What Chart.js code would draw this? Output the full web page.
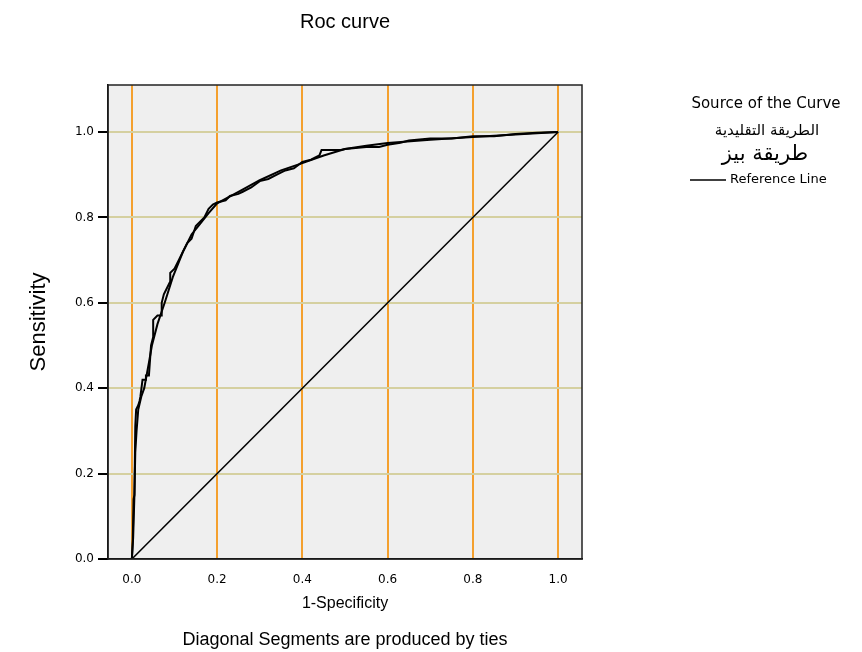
<!DOCTYPE html>
<html>
<head>
<meta charset="utf-8">
<script src="https://cdn.jsdelivr.net/npm/chart.js@4/dist/chart.umd.min.js"></script>
<style>
  body { margin: 0; background: #fff; }
</style>
</head>
<body>
<canvas id="roc" width="862" height="652"></canvas>
<script>
// ROC data
const fprTraditional = [0, 0.002, 0.004, 0.006, 0.008, 0.01, 0.015, 0.018, 0.02, 0.025, 0.033, 0.033, 0.04, 0.045, 0.05, 0.05, 0.06, 0.07, 0.07, 0.075, 0.09, 0.09, 0.1, 0.11, 0.12, 0.13, 0.14, 0.15, 0.16, 0.17, 0.18, 0.19, 0.2, 0.22, 0.23, 0.25, 0.26, 0.28, 0.3, 0.32, 0.34, 0.36, 0.38, 0.4, 0.42, 0.44, 0.445, 0.49, 0.5, 0.55, 0.58, 0.6, 0.63, 0.65, 0.7, 0.75, 0.8, 0.85, 0.9, 0.95, 1];
const tprTraditional = [0, 0.04, 0.14, 0.15, 0.31, 0.35, 0.36, 0.37, 0.38, 0.42, 0.42, 0.43, 0.43, 0.5, 0.52, 0.56, 0.57, 0.57, 0.6, 0.62, 0.65, 0.67, 0.68, 0.7, 0.72, 0.74, 0.75, 0.78, 0.79, 0.8, 0.82, 0.83, 0.835, 0.84, 0.85, 0.855, 0.86, 0.87, 0.885, 0.89, 0.9, 0.91, 0.915, 0.93, 0.935, 0.945, 0.958, 0.958, 0.96, 0.965, 0.965, 0.97, 0.975, 0.98, 0.985, 0.985, 0.99, 0.99, 0.995, 0.998, 1];

const fprBayes = [0, 0.003, 0.006, 0.008, 0.011, 0.015, 0.022, 0.029, 0.04, 0.047, 0.06, 0.077, 0.096, 0.12, 0.14, 0.16, 0.18, 0.2, 0.25, 0.3, 0.35, 0.4, 0.45, 0.5, 0.55, 0.6, 0.7, 0.8, 0.9, 1];
const tprBayes = [0, 0.05, 0.15, 0.25, 0.3, 0.35, 0.38, 0.4, 0.46, 0.5, 0.55, 0.6, 0.66, 0.72, 0.76, 0.785, 0.81, 0.833, 0.86, 0.887, 0.91, 0.927, 0.945, 0.96, 0.968, 0.974, 0.982, 0.988, 0.994, 1];

const refX = [0, 1];
const refY = [0, 1];

const xTicks = [0, 0.2, 0.4, 0.6, 0.8, 1.0];
const yTicks = [0, 0.2, 0.4, 0.6, 0.8, 1.0];

const legendTitle = "Source of the Curve";
const seriesNames = ["الطريقة التقليدية", "طريقة بيز"];
const refName = "Reference Line";

function toPoints(xs, ys) {
    return xs.map((x, i) => ({ x: x, y: ys[i] }));
}

const orange = "#f4a02e";
const khaki = "#d5d0a0";

// plot background, frame and the legend on the right
const framePlugin = {
    id: "frame",
    beforeDraw(chart) {
        const a = chart.chartArea;
        const ctx = chart.ctx;
        ctx.save();
        ctx.fillStyle = "#efefef";
        ctx.fillRect(a.left, a.top, a.right - a.left, a.bottom - a.top);
        ctx.restore();
    },
    afterDraw(chart) {
        const a = chart.chartArea;
        const ctx = chart.ctx;
        ctx.save();
        ctx.strokeStyle = "#222";
        ctx.lineWidth = 1.5;
        ctx.strokeRect(a.left, a.top, a.right - a.left, a.bottom - a.top);

        ctx.fillStyle = "#000";
        ctx.textAlign = "center";
        ctx.textBaseline = "middle";
        ctx.font = "15px 'DejaVu Sans', sans-serif";
        ctx.fillText(legendTitle, 766, 104);
        ctx.font = "15px 'DejaVu Sans', sans-serif";
        ctx.fillText(seriesNames[0], 767, 131);
        ctx.font = "21px 'DejaVu Sans', sans-serif";
        ctx.fillText(seriesNames[1], 765, 155);

        ctx.beginPath();
        ctx.lineWidth = 1.5;
        ctx.strokeStyle = "#000";
        ctx.moveTo(690, 180);
        ctx.lineTo(726, 180);
        ctx.stroke();
        ctx.textAlign = "left";
        ctx.font = "13px 'DejaVu Sans', sans-serif";
        ctx.fillText(refName, 730, 180);
        ctx.restore();
    }
};

new Chart(document.getElementById("roc"), {
    type: "scatter",
    data: {
        datasets: [
            {
                label: seriesNames[0],
                data: toPoints(fprTraditional, tprTraditional),
                showLine: true,
                borderColor: "#000",
                borderWidth: 2,
                pointRadius: 0
            },
            {
                label: seriesNames[1],
                data: toPoints(fprBayes, tprBayes),
                showLine: true,
                borderColor: "#000",
                borderWidth: 2,
                pointRadius: 0
            },
            {
                label: refName,
                data: toPoints(refX, refY),
                showLine: true,
                borderColor: "#000",
                borderWidth: 1.5,
                pointRadius: 0
            }
        ]
    },
    options: {
        responsive: false,
        animation: false,
        layout: { padding: { left: 10, right: 280, top: 0, bottom: 0 } },
        plugins: {
            legend: { display: false },
            tooltip: { enabled: false },
            title: {
                display: true,
                text: "Roc curve",
                fullSize: false,
                color: "#000",
                font: { family: "'Liberation Sans', Arial, sans-serif", size: 20, weight: "normal" },
                padding: { top: 10, bottom: 51 }
            },
            subtitle: {
                display: true,
                position: "bottom",
                text: "Diagonal Segments are produced by ties",
                fullSize: false,
                color: "#000",
                font: { family: "'Liberation Sans', Arial, sans-serif", size: 18 },
                padding: { top: 12.4, bottom: 1 }
            }
        },
        scales: {
            x: {
                type: "linear",
                min: -0.056,
                max: 1.056,
                afterBuildTicks: s => { s.ticks = xTicks.map(v => ({ value: v })); },
                afterFit: s => { s.height = 58; },
                grid: { color: orange, lineWidth: 2, drawTicks: false },
                border: { color: "#000", width: 1.5 },
                ticks: {
                    padding: 14,
                    color: "#000",
                    font: { family: "'DejaVu Sans', sans-serif", size: 12 },
                    callback: v => v.toFixed(1)
                },
                title: {
                    display: true,
                    text: "1-Specificity",
                    color: "#000",
                    font: { family: "'Liberation Sans', Arial, sans-serif", size: 16 },
                    padding: { top: 0, bottom: 3.4 }
                }
            },
            y: {
                type: "linear",
                min: 0,
                max: 1.11,
                afterBuildTicks: s => { s.ticks = yTicks.map(v => ({ value: v })); },
                afterFit: s => { s.width = 98; },
                grid: {
                    color: c => (c.tick && c.tick.value === 0 ? "rgba(0,0,0,0)" : khaki),
                    lineWidth: 2,
                    tickColor: "#000",
                    tickLength: 10,
                    tickWidth: 2
                },
                border: { color: "#000", width: 1.5 },
                ticks: {
                    padding: 4,
                    color: "#000",
                    font: { family: "'DejaVu Sans', sans-serif", size: 12 },
                    callback: v => v.toFixed(1)
                },
                title: {
                    display: true,
                    text: "Sensitivity",
                    color: "#000",
                    font: { family: "'Liberation Sans', Arial, sans-serif", size: 22 },
                    padding: { top: 16, bottom: 0 }
                }
            }
        }
    },
    plugins: [framePlugin]
});
</script>
</body>
</html>
